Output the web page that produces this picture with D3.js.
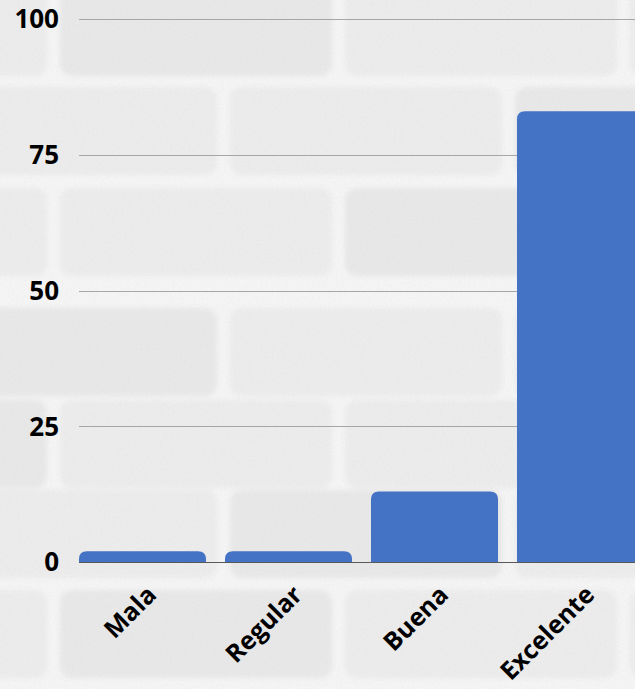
<!DOCTYPE html>
<html>
<head>
<meta charset="utf-8">
<script src="https://cdn.jsdelivr.net/npm/d3@7"></script>
<style>
  html, body { margin: 0; padding: 0; background: #f1f1f1; overflow: hidden; }
  svg { display: block; font-family: "Open Sans", sans-serif; }
</style>
</head>
<body>
<div id="vis"></div>
<script>
// Chart data
const categories = ["Mala", "Regular", "Buena", "Excelente"];
const values = [2, 2, 13, 83];
const yTicks = [0, 25, 50, 75, 100];

const W = 635, H = 689;

const svg = d3.select("#vis").append("svg")
  .attr("width", W)
  .attr("height", H);

// Background: light brick wall
const defs = svg.append("defs");
const noise = defs.append("filter").attr("id", "grain")
  .attr("x", 0).attr("y", 0).attr("width", "100%").attr("height", "100%");
noise.append("feTurbulence")
  .attr("type", "fractalNoise")
  .attr("baseFrequency", 0.5)
  .attr("numOctaves", 3)
  .attr("seed", 4);
noise.append("feColorMatrix")
  .attr("values", "0 0 0 0 0.6  0 0 0 0 0.6  0 0 0 0 0.6  0 0 0 0.25 -0.08");

const soft = defs.append("filter").attr("id", "soft");
soft.append("feGaussianBlur").attr("stdDeviation", 2.5);

svg.append("rect").attr("width", W).attr("height", H).attr("fill", "#f5f5f5");

const bg = svg.append("g").attr("filter", "url(#soft)");
const rowTops = [-12, 87, 188, 308, 400, 490, 590];
rowTops.forEach((top, i) => {
  const offset = i % 2 ? -60 : 55;
  for (let x = offset - 280; x < W; x += 285) {
    bg.append("rect")
      .attr("x", x).attr("y", top)
      .attr("width", 272).attr("height", 88)
      .attr("rx", 12)
      .attr("fill", (i + Math.round(x / 285)) % 3 === 0 ? "#e8e8e8" : "#ececec");
  }
});
svg.append("rect").attr("width", W).attr("height", H)
  .attr("filter", "url(#grain)");

// Scales
const x = d3.scaleBand()
  .domain(categories)
  .range([60, 663])
  .paddingInner(0.13)
  .paddingOuter(0.13);

const y = d3.scaleLinear()
  .domain([0, 100])
  .range([562, 19]);

// Gridlines
svg.append("g")
  .selectAll("line")
  .data(yTicks.filter(d => d > 0))
  .join("line")
  .attr("x1", 79).attr("x2", W)
  .attr("y1", d => Math.round(y(d)) + 0.5)
  .attr("y2", d => Math.round(y(d)) + 0.5)
  .attr("stroke", "#a6a6a6")
  .attr("stroke-width", 1);

// Y tick labels
svg.append("g")
  .selectAll("text")
  .data(yTicks)
  .join("text")
  .attr("x", 59)
  .attr("y", d => y(d))
  .attr("dy", "0.36em")
  .attr("text-anchor", "end")
  .attr("font-size", 26)
  .attr("font-weight", 700)
  .attr("fill", "#000")
  .text(d => d);

// Bars with rounded top corners
const r = 8;
function barPath(d, i) {
  const x0 = x(categories[i]), w = x.bandwidth();
  const top = y(d), base = y(0);
  const rr = Math.min(r, (base - top));
  return `M${x0},${base}V${top + rr}Q${x0},${top} ${x0 + rr},${top}` +
    `H${x0 + w - rr}Q${x0 + w},${top} ${x0 + w},${top + rr}V${base}Z`;
}

svg.append("g")
  .selectAll("path")
  .data(values)
  .join("path")
  .attr("d", barPath)
  .attr("fill", "#4472c4");

// Baseline
svg.append("line")
  .attr("x1", 79).attr("x2", W)
  .attr("y1", y(0) + 0.5).attr("y2", y(0) + 0.5)
  .attr("stroke", "#595959")
  .attr("stroke-width", 1);

// X labels, rotated
svg.append("g")
  .selectAll("text")
  .data(categories)
  .join("text")
  .attr("transform", d => `translate(${x(d) + x.bandwidth() / 2 + 3},${y(0) + 22}) rotate(-45)`)
  .attr("text-anchor", "end")
  .attr("dy", "0.7em")
  .attr("font-size", 25)
  .attr("font-weight", 700)
  .attr("fill", "#000")
  .text(d => d);
</script>
</body>
</html>
